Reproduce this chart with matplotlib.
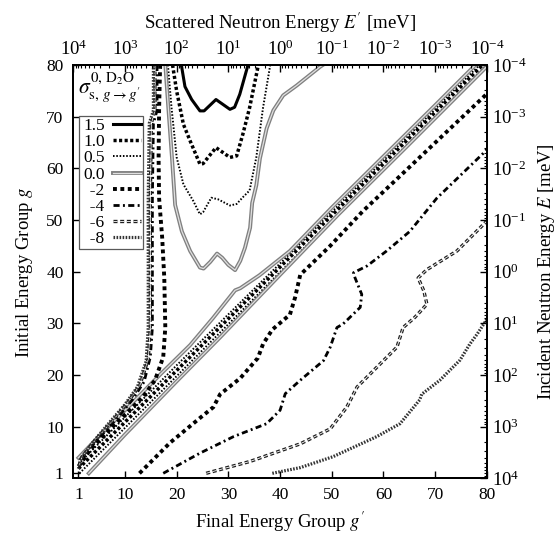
import numpy as np
import matplotlib
matplotlib.use('Agg')
import matplotlib.pyplot as plt
from matplotlib.lines import Line2D
from matplotlib.ticker import LogLocator, NullFormatter

plt.rcParams['font.family'] = ['Liberation Serif', 'DejaVu Serif']
plt.rcParams['mathtext.fontset'] = 'stix'

# contour levels, log10 of the group-to-group cross section
levels = ['1.5', '1.0', '0.5', '0.0', '-2', '-4', '-6', '-8']
group_ticks = [1, 10, 20, 30, 40, 50, 60, 70, 80]

# contour traces, as (g', g) pairs
# up-scatter "U" shapes near the top
c15_u = [(20.9, 80.0), (21.6, 75.8), (22.9, 73.3), (24.5, 71.1), (25.3, 71.1), (27.6, 73.3),
         (30.3, 71.4), (31.2, 71.8), (32.2, 74.3), (33.8, 80.0)]
c10_u = [(19.2, 80.0), (20.0, 74.9), (21.3, 68.5), (22.6, 65.3), (24.5, 60.8), (25.1, 60.9),
         (27.6, 64.0), (30.3, 62.1), (31.6, 62.4), (32.8, 66.6), (34.1, 71.7), (35.8, 80.0)]
c05_u = [(18.3, 80.0), (19.0, 71.7), (20.0, 62.1), (21.3, 56.9), (23.2, 53.7), (24.5, 51.1),
         (25.1, 51.5), (26.7, 54.3), (28.0, 54.0), (30.3, 52.8), (31.6, 53.1), (32.8, 54.4),
         (34.1, 55.7), (35.4, 62.1), (36.7, 71.7), (38.1, 80.0)]
c00_u = [(17.8, 80.0), (18.4, 71.5), (19.1, 61.9), (19.7, 52.9), (21.0, 47.8), (22.6, 44.0),
         (24.5, 40.8), (25.2, 40.6), (26.5, 41.9), (27.8, 43.5), (28.8, 42.7), (30.0, 41.3),
         (31.3, 40.3), (32.3, 42.1), (33.2, 44.6), (34.2, 48.5), (34.6, 53.3), (35.4, 56.7),
         (36.1, 61.9), (37.4, 67.7), (38.7, 71.2), (40.6, 74.1), (43.2, 76.0), (47.7, 79.6),
         (48.3, 80.0)]

# steep up-scatter bundle on the left
cm2_up = [(16.8, 80.0), (16.6, 71.5), (16.5, 61.9), (16.6, 54.2), (17.2, 46.5), (17.6, 38.8),
          (17.8, 29.2), (17.4, 23.5), (15.8, 19.0), (13.5, 15.8), (11.0, 13.3), (7.2, 9.6),
          (3.3, 5.6), (1.0, 2.3)]
cm4_up = [(16.2, 80.0), (16.2, 71.2), (15.5, 68.7), (15.3, 54.2), (15.3, 38.8), (15.3, 29.2),
          (14.9, 23.5), (13.7, 18.7), (11.4, 15.2), (8.7, 11.9), (5.2, 8.1), (2.3, 4.8),
          (1.0, 2.3)]
cm6_up = [(15.8, 80.0), (15.8, 71.2), (15.1, 68.7), (14.9, 54.2), (14.9, 38.8), (14.9, 29.2),
          (14.5, 23.1), (12.9, 18.1), (10.6, 14.8), (7.7, 11.3), (4.3, 7.5), (1.7, 4.2),
          (1.0, 2.1)]
cm8_up = [(15.5, 80.0), (15.5, 71.2), (14.7, 68.7), (14.5, 54.2), (14.5, 38.8), (14.5, 29.2),
          (14.1, 22.7), (12.4, 17.7), (9.9, 14.2), (6.8, 10.6), (3.7, 6.9), (1.4, 3.8),
          (1.0, 1.9)]

# ridge along the diagonal
c00_dup = [(1.0, 4.0), (6.0, 9.2), (11.0, 14.2), (17.0, 20.3), (22.6, 25.8), (27.0, 31.0),
           (31.3, 36.4), (32.3, 36.8), (36.0, 39.3), (41.9, 44.0), (50.0, 52.4), (60.0, 62.3),
           (70.0, 72.2), (77.8, 80.0)]
c05_dup = [(1.0, 2.8), (20.0, 21.9), (40.0, 41.6), (60.0, 61.5), (78.6, 80.0)]
c10_d = [(1.0, 1.9), (20.0, 20.9), (40.0, 40.9), (60.0, 60.9), (79.2, 80.0)]
c05_dlo = [(1.2, 1.0), (20.0, 19.8), (40.0, 39.9), (60.0, 60.0), (80.0, 80.0)]
c00_dlo = [(3.0, 1.0), (10.0, 8.5), (20.0, 18.8), (28.4, 27.3), (40.0, 39.4), (51.2, 51.0),
           (65.0, 64.7), (80.0, 79.7)]

# down-scatter side
cm2_dn = [(12.8, 1.0), (18.7, 6.9), (24.5, 11.7), (27.1, 13.8), (28.4, 16.3), (32.3, 19.4),
          (35.7, 23.3), (36.7, 26.0), (38.5, 28.8), (41.9, 31.7), (42.9, 35.0), (43.9, 39.4),
          (49.7, 45.0), (56.0, 51.7), (63.2, 58.5), (70.9, 65.8), (80.0, 74.4)]
cm4_dn = [(17.4, 1.0), (24.5, 4.9), (31.0, 8.1), (37.4, 10.6), (40.0, 13.2), (41.0, 16.4),
          (43.9, 19.0), (48.4, 22.8), (49.7, 25.4), (51.0, 29.2), (52.2, 29.9), (55.5, 33.1),
          (55.8, 35.6), (54.5, 38.8), (54.2, 39.8), (56.8, 41.1), (60.6, 44.0), (65.1, 47.8),
          (70.3, 54.2), (79.3, 62.9), (80.0, 63.7)]
cm6_dn = [(25.7, 1.0), (34.2, 3.3), (43.9, 6.7), (49.7, 9.6), (52.9, 13.8), (54.9, 17.7),
          (58.0, 20.8), (62.6, 25.4), (63.8, 29.2), (66.1, 31.2), (68.4, 33.7), (67.8, 36.3),
          (66.7, 38.8), (68.4, 40.4), (74.2, 44.0), (79.2, 49.0), (80.0, 49.8)]
cm8_dn = [(38.5, 1.0), (43.9, 2.1), (50.2, 4.2), (58.7, 8.1), (63.2, 10.6), (67.0, 15.2),
          (67.4, 16.3), (70.9, 19.0), (74.8, 22.9), (76.7, 26.0), (78.1, 27.9), (80.0, 30.8)]

traces = {
    '1.5': [c15_u],
    '1.0': [c10_u, c10_d],
    '0.5': [c05_u, c05_dup, c05_dlo],
    '0.0': [c00_u, c00_dup, c00_dlo],
    '-2': [cm2_up, cm2_dn],
    '-4': [cm4_up, cm4_dn],
    '-6': [cm6_up, cm6_dn],
    '-8': [cm8_up, cm8_dn],
}

styles = {
    '1.5': [dict(color='k', lw=2.2)],
    '1.0': [dict(color='k', lw=2.5, ls=(0, (0.9, 0.7)))],
    '0.5': [dict(color='k', lw=1.4, ls=(0, (0.8, 0.9)))],
    '0.0': [dict(color='0.5', lw=2.8), dict(color='0.88', lw=0.9)],
    '-2': [dict(color='k', lw=2.8, ls=(0, (1.0, 0.9)))],
    '-4': [dict(color='k', lw=2.0, ls=(0, (2.2, 1.2, 0.7, 1.2)))],
    '-6': [dict(color='0.12', lw=2.4, ls=(0, (1.2, 0.8))),
           dict(color='white', lw=0.6, ls=(0, (4.8, 3.2)))],
    '-8': [dict(color='0.2', lw=2.3, ls=(0, (0.5, 0.45)))],
}

fig = plt.figure(figsize=(5.59, 5.42), dpi=100)
ax = fig.add_axes([0.1311, 0.1172, 0.7399, 0.7631])

for lvl in levels:
    for pts in traces[lvl]:
        gp = [p[0] for p in pts]
        g = [p[1] for p in pts]
        for kw in styles[lvl]:
            ax.plot(gp, g, **kw)

ax.set_xlim(0, 80)
ax.set_ylim(0, 80)
ax.set_xticks(group_ticks)
ax.set_yticks(group_ticks)
ax.set_xlabel("Final Energy Group $g'$", fontsize=13.5, labelpad=5)
ax.set_ylabel("Initial Energy Group $g$", fontsize=13.5, labelpad=8)

# legend, values on the left of the line samples
handles = [tuple(Line2D([], [], **kw) for kw in styles[lvl]) for lvl in levels]
labels = [lvl if not lvl.startswith('-') else '  ' + lvl for lvl in levels]
leg = ax.legend(handles, labels, loc='upper left', bbox_to_anchor=(0.0145, 0.8765),
                markerfirst=False, fancybox=False, framealpha=1, edgecolor='0.35',
                fontsize=12.5, handlelength=1.6, handletextpad=0.5, labelspacing=0.0,
                borderpad=0.12, borderaxespad=0)
leg.get_frame().set_linewidth(0.9)
ax.text(0.012, 0.945, r"$\sigma^{0,\,\mathrm{D_2O}}_{\mathrm{s},\,g\rightarrow g'}$",
        transform=ax.transAxes, fontsize=15.5, va='center', ha='left')

# energy axes on top and right
axt = ax.twiny()
axt.set_xscale('log')
axt.set_xlim(1e4, 1e-4)
axt.xaxis.set_major_locator(LogLocator(base=10, numticks=20))
axt.xaxis.set_minor_locator(LogLocator(base=10, subs=np.arange(2, 10), numticks=20))
axt.xaxis.set_minor_formatter(NullFormatter())
axt.set_xlabel("Scattered Neutron Energy $E'$ [meV]", fontsize=13.5, labelpad=8)

axr = ax.twinx()
axr.set_yscale('log')
axr.set_ylim(1e4, 1e-4)
axr.yaxis.set_major_locator(LogLocator(base=10, numticks=20))
axr.yaxis.set_minor_locator(LogLocator(base=10, subs=np.arange(2, 10), numticks=20))
axr.yaxis.set_minor_formatter(NullFormatter())
axr.set_ylabel("Incident Neutron Energy $E$ [meV]", fontsize=13.5, labelpad=6)

ax.tick_params(axis='x', direction='in', length=5, width=1, labelsize=12.5, pad=6,
               top=False)
ax.tick_params(axis='y', direction='in', length=5, width=1, labelsize=12.5, pad=7,
               right=False)
axt.tick_params(axis='x', which='major', direction='in', length=5, width=1, labelsize=13.5, pad=4)
axt.tick_params(axis='x', which='minor', direction='in', length=2.5, width=0.8)
axr.tick_params(axis='y', which='major', direction='in', length=5, width=1, labelsize=13.5, pad=4)
axr.tick_params(axis='y', which='minor', direction='in', length=2.5, width=0.8)

for a in (ax, axt, axr):
    for s in a.spines.values():
        s.set_linewidth(1.3)

fig.savefig('out.png', dpi=100)
